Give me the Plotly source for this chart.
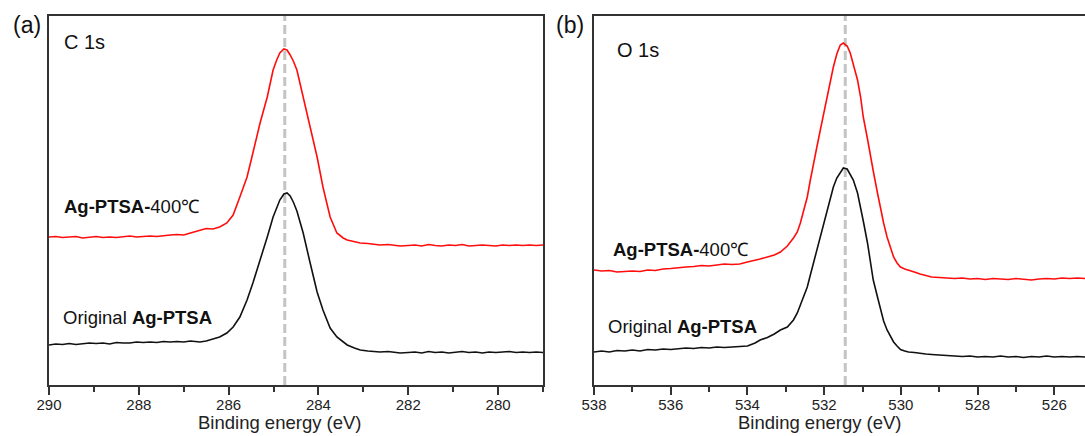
import plotly.graph_objects as go

# ---------------- Panel (a): C 1s ----------------
C1S_ENERGY = [290.0, 289.85, 289.7, 289.55, 289.4, 289.25, 289.1, 288.95, 288.8, 288.65, 288.5,
              288.35, 288.2, 288.05, 287.9, 287.75, 287.6, 287.45, 287.3, 287.15, 287.0, 286.85,
              286.64, 286.5, 286.35, 286.2, 286.04, 285.9, 285.75, 285.59, 285.46, 285.3, 285.14,
              285.01, 284.93, 284.86, 284.77, 284.7, 284.63, 284.56, 284.48, 284.34, 284.19, 284.03,
              283.9, 283.74, 283.59, 283.45, 283.36, 283.2, 283.07, 282.9, 282.75, 282.63, 282.45,
              282.3, 282.18,
              282.0, 281.85, 281.7, 281.55, 281.4, 281.25, 281.1, 280.95, 280.8, 280.65, 280.5,
              280.35, 280.2, 280.05, 279.9, 279.75, 279.6, 279.45, 279.3, 279.15, 279.0]
C1S_ANNEALED = [148, 148.5, 147.5, 148, 148.5, 147, 148, 148.5, 147.5, 148, 147.5,
                148.5, 149, 148, 148.5, 149, 148.5, 149.5, 150, 150.5, 150, 152,
                155, 156.5, 156, 158, 162, 170, 188, 208, 232, 262, 288,
                315, 325, 332, 336, 335, 330, 324, 315, 288, 258, 228,
                198, 168, 152, 147, 145, 143.5, 142, 141.5, 140.5, 140, 140.5,
                139.5, 139,
                139.5, 140, 139, 140.5, 139.5, 139, 140, 139.5, 140.5, 139, 139.5,
                140, 139.5, 139, 140, 139.5, 140, 139.5, 140, 139.5, 140]
C1S_ORIGINAL = [40, 41, 40.5, 41.5, 40.5, 41, 42, 41.5, 42, 41, 42.5,
                42, 42, 43, 42.5, 43, 42.5, 43.5, 43, 43.5, 43, 44,
                43, 44, 46, 48, 52, 58, 68, 85, 102, 124, 148,
                168, 178, 185, 191, 192, 189, 183, 174, 152, 123, 93,
                75, 57, 48, 43, 40, 37, 35, 34, 33.5, 33, 33.5,
                32.5, 32,
                32.5, 33, 32, 33.5, 32.5, 33, 32, 33, 33.5, 32.5, 33,
                32, 33, 32.5, 33, 33.5, 32.5, 33, 32.5, 33, 32.5]
C1S_PEAK = 284.75
C1S_TICKS = [290, 288, 286, 284, 282, 280]

# ---------------- Panel (b): O 1s ----------------
O1S_ENERGY = [538.0, 537.8, 537.6, 537.4, 537.2, 537.0, 536.8, 536.6, 536.4, 536.2, 536.0,
              535.8, 535.6, 535.4, 535.2, 535.0, 534.8, 534.6, 534.4,
              534.2, 534.0, 533.8, 533.67, 533.48, 533.3, 533.14, 532.96, 532.8, 532.7,
              532.62, 532.54, 532.44, 532.36, 532.28, 532.19, 532.1, 532.02, 531.92, 531.84,
              531.76, 531.67, 531.58, 531.5, 531.4, 531.32, 531.24, 531.13, 531.05, 530.98,
              530.87, 530.79, 530.72, 530.61, 530.53, 530.45, 530.36, 530.27, 530.19, 530.1,
              530.01, 529.9, 529.8, 529.65, 529.5, 529.35, 529.2,
              529.0, 528.8, 528.6, 528.4, 528.2, 528.0, 527.8, 527.6, 527.4, 527.2, 527.0,
              526.8, 526.6, 526.4, 526.2, 526.0, 525.8, 525.6, 525.4, 525.2]
O1S_ANNEALED = [115, 114, 114.5, 113, 113.5, 114, 113.5, 115, 114.5, 116, 116.5,
                117.5, 118, 118.5, 119.5, 119, 120, 121, 120.5,
                121, 123, 124.5, 126, 128, 130, 133, 139, 147, 153,
                162, 173, 188, 205, 222, 238, 255, 270, 288, 303,
                318, 331, 340, 342, 339, 332, 320, 305, 288, 268,
                246, 228, 214, 192, 176, 162, 148, 136, 128, 122,
                118, 116, 114.5, 113, 111, 109.5, 108,
                107.5, 107, 106.5, 107, 106, 106.5, 105.5, 106.5, 106, 105.5, 106.5,
                106, 105, 106, 106.5, 106, 107, 106.5, 107, 106.5]
O1S_ORIGINAL = [33, 34, 33, 34.5, 34, 35, 34, 35.5, 35, 36, 35.5,
                36.5, 37, 36.5, 37.5, 37, 38, 37.5, 38,
                38, 39, 42, 45, 47.5, 51, 55, 58, 65, 72,
                80, 88, 98, 110, 122, 136, 149, 162, 177, 189,
                198, 207, 213, 217, 216, 211, 205, 192, 178, 164,
                142, 122, 105, 88, 75, 64, 55, 48, 43, 39,
                35.5, 34, 33, 32.5, 31.5, 31, 30.5,
                30, 29.5, 29, 28.5, 29, 28, 28.5, 28, 29, 28, 28.5,
                27.5, 28.5, 28, 29, 28, 28.5, 28, 28.5, 28]
O1S_PEAK = 531.45
O1S_TICKS = [538, 536, 534, 532, 530, 528, 526]

LABEL_ANNEALED = "<b>Ag-PTSA-</b>400℃"
LABEL_ORIGINAL = "Original <b>Ag-PTSA</b>"
X_TITLE = "Binding energy (eV)"

FONT = "Liberation Sans, Arial, sans-serif"
RED = "#ff0d0d"
BLACK = "#111111"
AXC = "#333333"

fig = go.Figure()
fig.add_trace(go.Scatter(x=C1S_ENERGY, y=C1S_ANNEALED, mode="lines", line=dict(color=RED, width=1.6),
                         xaxis="x", yaxis="y", showlegend=False, hoverinfo="skip"))
fig.add_trace(go.Scatter(x=C1S_ENERGY, y=C1S_ORIGINAL, mode="lines", line=dict(color=BLACK, width=1.6),
                         xaxis="x", yaxis="y", showlegend=False, hoverinfo="skip"))
fig.add_trace(go.Scatter(x=O1S_ENERGY, y=O1S_ANNEALED, mode="lines", line=dict(color=RED, width=1.6),
                         xaxis="x2", yaxis="y2", showlegend=False, hoverinfo="skip"))
fig.add_trace(go.Scatter(x=O1S_ENERGY, y=O1S_ORIGINAL, mode="lines", line=dict(color=BLACK, width=1.6),
                         xaxis="x2", yaxis="y2", showlegend=False, hoverinfo="skip"))

W, H = 1085, 436
common_x = dict(ticks="outside", ticklen=8, tickwidth=1.5, tickcolor=AXC, automargin=False,
                ticklabelstandoff=-3,
                showline=True, linecolor=AXC, linewidth=2, showgrid=False, zeroline=False,
                minor=dict(dtick=1, ticks="outside", ticklen=5, tickwidth=1.5, tickcolor=AXC, showgrid=False),
                tickfont=dict(family=FONT, size=15, color="#222"))
common_y = dict(range=[0, 369], showticklabels=False, ticks="", showgrid=False, zeroline=False,
                automargin=False, showline=True, linecolor=AXC, linewidth=2, domain=[0, 1])

fig.update_layout(
    width=W, height=H,
    margin=dict(l=0, r=0, t=16, b=51, autoexpand=False),
    paper_bgcolor="white", plot_bgcolor="white",
    xaxis=dict(domain=[49 / W, 543 / W], range=[290, 279], tickvals=C1S_TICKS, mirror=True, anchor="y",
               **common_x),
    yaxis=dict(mirror=True, anchor="x", **common_y),
    xaxis2=dict(domain=[594 / W, 1.0], range=[538, 525.2], tickvals=O1S_TICKS, mirror=True, anchor="y2",
                **common_x),
    yaxis2=dict(mirror=False, anchor="x2", **common_y),
)

fig.add_shape(type="line", xref="x", yref="y domain", x0=C1S_PEAK, x1=C1S_PEAK, y0=0, y1=1,
              line=dict(color="#c4c4c4", width=3, dash="9px,4px"), layer="below")
fig.add_shape(type="line", xref="x2", yref="y2 domain", x0=O1S_PEAK, x1=O1S_PEAK, y0=0, y1=1,
              line=dict(color="#c4c4c4", width=3, dash="9px,4px"), layer="below")

lab_font = dict(family=FONT, size=18.5, color="#111")
head_font = dict(family=FONT, size=20, color="#111")
ann = [
    dict(xref="x", yref="y", x=289.71, y=179, text=LABEL_ANNEALED, font=lab_font),
    dict(xref="x", yref="y", x=289.73, y=68, text=LABEL_ORIGINAL, font=lab_font),
    dict(xref="x", yref="y", x=289.7, y=343, text="C 1s", font=head_font),
    dict(xref="x2", yref="y2", x=537.56, y=136, text=LABEL_ANNEALED, font=lab_font),
    dict(xref="x2", yref="y2", x=537.68, y=59, text=LABEL_ORIGINAL, font=lab_font),
    dict(xref="x2", yref="y2", x=537.45, y=335, text="O 1s", font=head_font),
]
for a in ann:
    fig.add_annotation(showarrow=False, xanchor="left", yanchor="middle", **a)
for lab, px in [("(a)", 11), ("(b)", 554)]:
    fig.add_annotation(text=lab, xref="paper", yref="paper", x=px / W, y=(385 - 25) / 369,
                       xanchor="left", yanchor="middle", showarrow=False,
                       font=dict(family=FONT, size=23, color="#111"))
# axis titles (placed slightly left of the axis centre, as in the original figure)
for cx in (280, 820):
    fig.add_annotation(text=X_TITLE, xref="paper", yref="paper", x=cx / W, y=(385 - 435) / 369,
                       xanchor="center", yanchor="bottom", showarrow=False,
                       font=dict(family=FONT, size=18.5, color="#222"))

fig.write_html("out.html")
